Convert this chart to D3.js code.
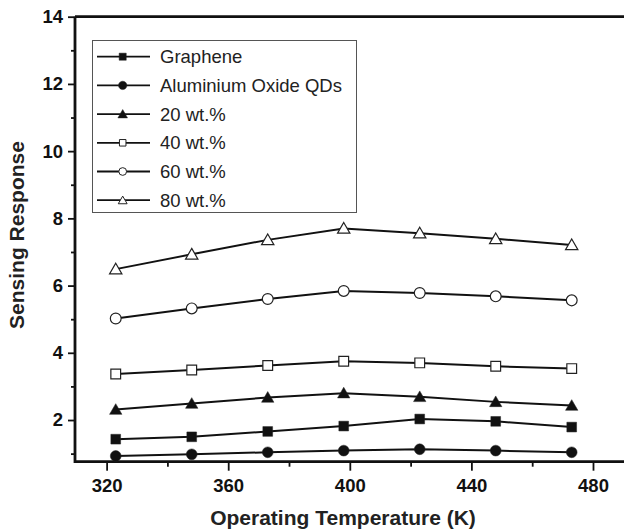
<!DOCTYPE html>
<html><head><meta charset="utf-8">
<script src="https://cdn.jsdelivr.net/npm/d3@7"></script>
<style>body{margin:0;background:#fff}svg{display:block}text{font-family:"Liberation Sans",Arial,sans-serif}</style>
</head><body><svg id="c" width="624" height="530"></svg>
<script>
const temps = [323, 348, 373, 398, 423, 448, 473];
const seriesNames = ["Graphene", "Aluminium Oxide QDs", "20 wt.%", "40 wt.%", "60 wt.%", "80 wt.%"];
const graphene = [1.43, 1.50, 1.66, 1.82, 2.03, 1.96, 1.79];
const aluminium = [0.93, 0.98, 1.04, 1.09, 1.13, 1.09, 1.04];
const wt20 = [2.31, 2.49, 2.67, 2.80, 2.69, 2.54, 2.43];
const wt40 = [3.37, 3.49, 3.62, 3.75, 3.70, 3.60, 3.53];
const wt60 = [5.02, 5.32, 5.60, 5.84, 5.78, 5.68, 5.56];
const wt80 = [6.49, 6.93, 7.36, 7.70, 7.56, 7.39, 7.21];
const xTicks = [320, 360, 400, 440, 480];
const xMinor = [340, 380, 420, 460];
const yTicks = [2, 4, 6, 8, 10, 12, 14];
const yMinor = [1, 3, 5, 7, 9, 11, 13];
const symbols = ["square", "circle", "triangle", "square", "circle", "triangle"];
const filled = [true, true, true, false, false, false];
const allValues = [graphene, aluminium, wt20, wt40, wt60, wt80];

const svg = d3.select("#c");
const L = 75, R = 624, T = 16.7, B = 461.7;
const x = d3.scaleLinear().domain([309.6, 490.2]).range([L, R]);
const y = d3.scaleLinear().domain([0.76, 14]).range([B, T]);

function styleTicks(g) {
  g.select(".domain").remove();
  g.selectAll(".tick line").attr("stroke", "#111").attr("stroke-width", 1.8);
}
const gx = svg.append("g").attr("transform", `translate(0,${B})`)
  .call(d3.axisBottom(x).tickValues(xTicks).tickSize(9).tickPadding(8).tickFormat(d3.format("d")));
styleTicks(gx);
gx.selectAll("text").attr("font-size", 18.5).attr("font-weight", "bold").attr("fill", "#111");
styleTicks(svg.append("g").attr("transform", `translate(0,${B})`)
  .call(d3.axisBottom(x).tickValues(xMinor).tickSize(5).tickFormat("")));
const gy = svg.append("g").attr("transform", `translate(${L},0)`)
  .call(d3.axisLeft(y).tickValues(yTicks).tickSize(7).tickPadding(5));
styleTicks(gy);
gy.selectAll("text").attr("font-size", 18.5).attr("font-weight", "bold").attr("fill", "#111");
styleTicks(svg.append("g").attr("transform", `translate(${L},0)`)
  .call(d3.axisLeft(y).tickValues(yMinor).tickSize(4).tickFormat("")));

svg.append("path").attr("d", `M${L},${T}H${R}M${L},${T}V${B}H${R}`)
  .attr("fill", "none").attr("stroke", "#111").attr("stroke-width", 2.8);

svg.append("text").attr("x", 343).attr("y", 525).attr("text-anchor", "middle")
  .attr("font-size", 21).attr("font-weight", "bold").attr("fill", "#222").text("Operating Temperature (K)");
svg.append("text").attr("transform", "translate(23.5,235) rotate(-90)").attr("text-anchor", "middle")
  .attr("font-size", 21).attr("font-weight", "bold").attr("fill", "#222").text("Sensing Response");

function sym(i, size) {
  const t = symbols[i] === "square" ? d3.symbolSquare : symbols[i] === "circle" ? d3.symbolCircle : d3.symbolTriangle;
  return d3.symbol().type(t).size(size)();
}
const sizes = { square: 95, circle: 92, triangle: 66 };
const line = d3.line().x((d, i) => x(temps[i])).y(d => y(d));

allValues.forEach((vals, i) => {
  const g = svg.append("g");
  g.append("path").attr("d", line(vals)).attr("fill", "none").attr("stroke", "#111").attr("stroke-width", 2);
  g.selectAll("path.m").data(vals).enter().append("path").attr("class", "m")
    .attr("d", sym(i, sizes[symbols[i]]))
    .attr("transform", (d, j) => `translate(${x(temps[j])},${y(d) + (symbols[i] === "triangle" ? 1.2 : 0)})`)
    .attr("fill", filled[i] ? "#111" : "#fff").attr("stroke", "#222").attr("stroke-width", filled[i] ? 0.5 : 1.2);
});

const lg = svg.append("g");
lg.append("rect").attr("x", 92.5).attr("y", 40.5).attr("width", 264).attr("height", 172)
  .attr("fill", "#fff").attr("stroke", "#555").attr("stroke-width", 1);
const lsizes = { square: 50, circle: 55, triangle: 40 };
seriesNames.forEach((n, i) => {
  const cy = 56.7 + i * 28.7;
  lg.append("line").attr("x1", 97).attr("x2", 150).attr("y1", cy).attr("y2", cy).attr("stroke", "#111").attr("stroke-width", 1.8);
  lg.append("path").attr("d", sym(i, filled[i] ? lsizes[symbols[i]] : lsizes[symbols[i]] * 0.85))
    .attr("transform", `translate(122.7,${cy + (symbols[i] === "triangle" ? 1 : 0)})`)
    .attr("fill", filled[i] ? "#111" : "#fff").attr("stroke", "#222").attr("stroke-width", filled[i] ? 0.5 : 1);
  lg.append("text").attr("x", 160).attr("y", cy + 6.5).attr("font-size", 18.5).attr("fill", "#222").text(n);
});
</script></body></html>
